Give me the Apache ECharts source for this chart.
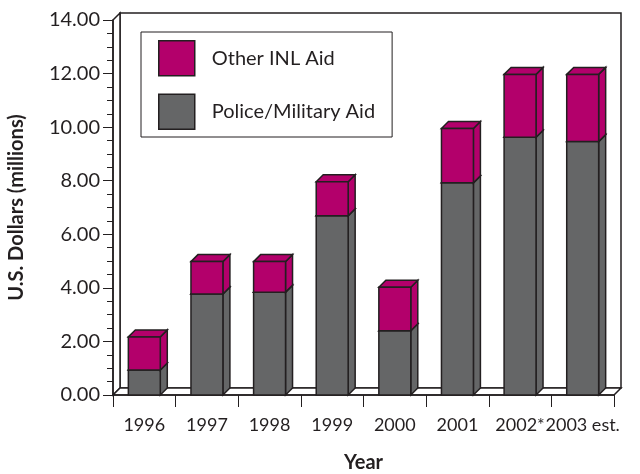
<!DOCTYPE html>
<html>
<head>
<meta charset="utf-8">
<script src="https://cdn.jsdelivr.net/npm/echarts@6/dist/echarts.min.js"></script>
<style>
  html, body { margin: 0; padding: 0; background: #fff; }
  #chart { width: 640px; height: 474px; }
</style>
</head>
<body>
<div id="chart"></div>
<script>
// values (millions of US dollars)
var years = ['1996', '1997', '1998', '1999', '2000', '2001', '2002*', '2003 est.'];
var policeMilitary = [0.93, 3.77, 3.84, 6.69, 2.40, 7.92, 9.62, 9.46];
var otherInl = [1.24, 1.21, 1.14, 1.27, 1.62, 2.03, 2.35, 2.51];
var yTicks = [0, 2, 4, 6, 8, 10, 12, 14];

var GRAY = '#656667';
var MAGENTA = '#b3006b';
var INK = '#231f20';
var DEPTH = 7;
var FONT = 'Lato';

// stacked segments: [index, base, top]
function segments(base, vals) {
  var out = [];
  for (var i = 0; i < vals.length; i++) {
    var b = base ? base[i] : 0;
    out.push([i, b, b + vals[i]]);
  }
  return out;
}

function renderBar(params, api) {
  var i = api.value(0);
  var lo = api.coord([i, api.value(1)]);
  var hi = api.coord([i, api.value(2)]);
  var w = api.size([1, 0])[0] * 0.51;
  var x0 = lo[0] - w / 2, x1 = lo[0] + w / 2;
  var st = { fill: api.visual('color'), stroke: INK, lineWidth: 1.5 };
  return {
    type: 'group',
    children: [
      { type: 'polygon', shape: { points: [[x1, lo[1]], [x1 + DEPTH, lo[1] - DEPTH], [x1 + DEPTH, hi[1] - DEPTH], [x1, hi[1]]] }, style: st },
      { type: 'polygon', shape: { points: [[x0, hi[1]], [x0 + DEPTH, hi[1] - DEPTH], [x1 + DEPTH, hi[1] - DEPTH], [x1, hi[1]]] }, style: st },
      { type: 'rect', shape: { x: x0, y: hi[1], width: w, height: lo[1] - hi[1] }, style: st }
    ]
  };
}

// back wall, side wall and floor of the 3d box
function renderFrame(params, api) {
  var c = params.coordSys;
  var x = c.x, y = c.y, w = c.width, h = c.height, d = DEPTH;
  var st = { fill: '#fff', stroke: INK, lineWidth: 1.5 };
  return {
    type: 'group',
    children: [
      { type: 'rect', shape: { x: x + d, y: y - d, width: w, height: h }, style: st },
      { type: 'polygon', shape: { points: [[x, y], [x + d, y - d], [x + d, y + h - d], [x, y + h]] }, style: st },
      { type: 'polygon', shape: { points: [[x, y + h], [x + d, y + h - d], [x + w + d, y + h - d], [x + w, y + h]] }, style: st }
    ]
  };
}

var chart = echarts.init(document.getElementById('chart'));
chart.setOption({
  backgroundColor: '#fff',
  animation: false,
  grid: { left: 113, right: 26, top: 20, bottom: 79, containLabel: false, outerBoundsMode: 'none' },
  legend: {
    orient: 'vertical',
    left: 141,
    top: 32,
    padding: [8, 17, 7, 17],
    itemWidth: 36,
    itemHeight: 35,
    itemGap: 17,
    icon: 'rect',
    borderColor: INK,
    borderWidth: 1,
    backgroundColor: '#fff',
    textStyle: { fontFamily: FONT, fontSize: 20, color: INK, padding: [0, 0, 0, 12] },
    data: [
      { name: 'Other INL Aid', itemStyle: { color: MAGENTA, borderColor: INK, borderWidth: 1.5 } },
      { name: 'Police/Military Aid', itemStyle: { color: GRAY, borderColor: INK, borderWidth: 1.5 } }
    ]
  },
  xAxis: {
    type: 'category',
    data: years,
    name: 'Year',
    nameLocation: 'middle',
    nameGap: 58,
    nameTextStyle: { fontFamily: FONT, fontSize: 20, fontWeight: 'bold', color: INK },
    axisLine: { lineStyle: { color: INK, width: 1.5 } },
    axisTick: { show: true, length: 12, lineStyle: { color: INK } },
    axisLabel: { interval: 0, margin: 21, fontFamily: FONT, fontSize: 18, color: INK },
    splitLine: { show: false }
  },
  yAxis: {
    type: 'value',
    min: yTicks[0],
    max: yTicks[yTicks.length - 1],
    interval: 2,
    name: 'U.S. Dollars (millions)',
    nameLocation: 'middle',
    nameGap: 86,
    nameTextStyle: { fontFamily: FONT, fontSize: 20, fontWeight: 'bold', color: INK },
    axisLine: { show: true, lineStyle: { color: INK, width: 1.5 } },
    axisTick: { show: true, length: 10, lineStyle: { color: INK } },
    minorTick: { show: true, splitNumber: 4, length: 6, lineStyle: { color: INK } },
    axisLabel: {
      margin: 13, fontFamily: FONT, fontSize: 20, color: INK,
      formatter: function (v) { return v.toFixed(2); }
    },
    splitLine: { show: false }
  },
  series: [
    {
      name: 'frame',
      type: 'custom',
      silent: true,
      z: 0,
      renderItem: renderFrame,
      data: [[0, 0]]
    },
    {
      name: 'Police/Military Aid',
      type: 'custom',
      z: 2,
      itemStyle: { color: GRAY },
      encode: { x: 0, y: [1, 2] },
      renderItem: renderBar,
      data: segments(null, policeMilitary)
    },
    {
      name: 'Other INL Aid',
      type: 'custom',
      z: 2,
      itemStyle: { color: MAGENTA },
      encode: { x: 0, y: [1, 2] },
      renderItem: renderBar,
      data: segments(policeMilitary, otherInl)
    }
  ]
});
</script>
</body>
</html>
